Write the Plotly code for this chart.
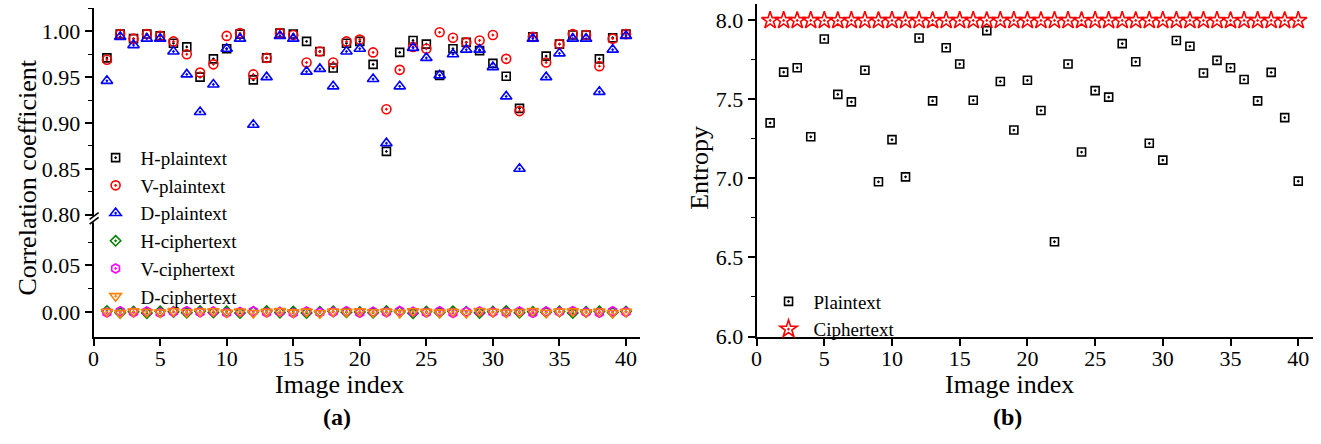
import plotly.graph_objects as go

# ---------------- data ----------------
image_index = list(range(1, 41))

# (a) correlation coefficients of adjacent pixels
h_plain = [0.971, 0.997, 0.992, 0.997, 0.995, 0.987, 0.983, 0.950, 0.970, 0.981,
           0.997, 0.947, 0.971, 0.998, 0.997, 0.989, 0.978, 0.960, 0.987, 0.989,
           0.964, 0.869, 0.977, 0.990, 0.986, 0.952, 0.981, 0.988, 0.979, 0.965,
           0.951, 0.916, 0.994, 0.973, 0.986, 0.996, 0.996, 0.970, 0.993, 0.997]
v_plain = [0.969, 0.997, 0.992, 0.997, 0.995, 0.989, 0.975, 0.955, 0.964, 0.995,
           0.998, 0.953, 0.971, 0.998, 0.996, 0.966, 0.978, 0.966, 0.989, 0.991,
           0.977, 0.915, 0.958, 0.983, 0.981, 0.999, 0.993, 0.988, 0.990, 0.996,
           0.970, 0.913, 0.994, 0.966, 0.986, 0.997, 0.996, 0.962, 0.992, 0.997]
d_plain = [0.946, 0.994, 0.985, 0.992, 0.992, 0.978, 0.953, 0.912, 0.942, 0.981,
           0.992, 0.898, 0.950, 0.995, 0.992, 0.956, 0.959, 0.940, 0.978, 0.981,
           0.948, 0.878, 0.940, 0.982, 0.971, 0.952, 0.975, 0.980, 0.980, 0.961,
           0.929, 0.850, 0.992, 0.950, 0.976, 0.992, 0.992, 0.934, 0.980, 0.995]
h_cipher = [0.0012, -0.0008, 0.0005, -0.0011, 0.0009, 0.0003, -0.0006, 0.0010, -0.0004, 0.0007,
            -0.0010, 0.0002, 0.0011, -0.0005, 0.0006, -0.0009, 0.0004, 0.0008, -0.0002, 0.0001,
            -0.0007, 0.0010, 0.0003, -0.0012, 0.0006, -0.0003, 0.0009, 0.0002, -0.0008, 0.0005,
            0.0011, -0.0006, 0.0004, -0.0001, 0.0007, -0.0010, 0.0003, 0.0008, -0.0004, 0.0006]
v_cipher = [-0.0006, 0.0010, -0.0003, 0.0007, -0.0009, 0.0004, 0.0011, -0.0002, 0.0006, -0.0008,
            0.0003, 0.0009, -0.0005, 0.0002, -0.0011, 0.0008, -0.0004, 0.0001, 0.0010, -0.0007,
            0.0005, -0.0002, 0.0012, 0.0004, -0.0006, 0.0009, -0.0010, 0.0003, 0.0007, -0.0001,
            -0.0005, 0.0008, -0.0009, 0.0006, 0.0002, 0.0011, -0.0003, -0.0007, 0.0009, 0.0001]
d_cipher = [0.0004, -0.0011, 0.0008, 0.0001, -0.0005, 0.0010, -0.0002, 0.0006, 0.0009, -0.0004,
            0.0007, -0.0009, 0.0002, 0.0010, -0.0003, 0.0005, -0.0012, 0.0007, 0.0003, 0.0008,
            -0.0001, 0.0006, -0.0008, 0.0009, 0.0002, -0.0006, 0.0004, -0.0010, 0.0011, 0.0003,
            -0.0004, 0.0001, 0.0010, -0.0007, 0.0005, 0.0008, -0.0002, 0.0006, -0.0009, 0.0004]

# (b) information entropy
entropy_plain = [7.350, 7.671, 7.698, 7.262, 7.880, 7.530, 7.483, 7.683, 6.978, 7.244,
                 7.009, 7.886, 7.489, 7.825, 7.722, 7.493, 7.933, 7.612, 7.305, 7.619,
                 7.428, 6.599, 7.722, 7.166, 7.554, 7.513, 7.851, 7.736, 7.221, 7.115,
                 7.871, 7.834, 7.665, 7.745, 7.698, 7.624, 7.489, 7.669, 7.383, 6.982]
entropy_cipher = [7.9972, 7.9973, 7.9971, 7.9974, 7.9972, 7.9970, 7.9973, 7.9972, 7.9971, 7.9974,
                  7.9973, 7.9972, 7.9970, 7.9973, 7.9974, 7.9972, 7.9971, 7.9973, 7.9972, 7.9974,
                  7.9971, 7.9973, 7.9972, 7.9970, 7.9974, 7.9973, 7.9972, 7.9971, 7.9973, 7.9972,
                  7.9974, 7.9971, 7.9972, 7.9973, 7.9970, 7.9972, 7.9974, 7.9973, 7.9971, 7.9972]

x_ticks = [0, 5, 10, 15, 20, 25, 30, 35, 40]

# ---------------- layout geometry (pixels) ----------------
W, H = 1321, 444
FONT = "Liberation Serif, Times New Roman, Times, serif"


def px(x):
    return x / W


def py(y):
    return 1 - y / H


fig = go.Figure()

marker_line = 1.6

plain_series = [
    ("H-plaintext", h_plain, "square-open-dot", "#000000", 8),
    ("V-plaintext", v_plain, "circle-open-dot", "#ff0000", 9),
    ("D-plaintext", d_plain, "triangle-up-open-dot", "#0000ff", 10),
]
cipher_series = [
    ("H-ciphertext", h_cipher, "diamond-open-dot", "#008000", 8),
    ("V-ciphertext", v_cipher, "hexagon-open-dot", "#ff00ff", 9),
    ("D-ciphertext", d_cipher, "triangle-down-open-dot", "#ff7f00", 10),
]

for name, vals, sym, col, sz in plain_series:
    fig.add_trace(go.Scatter(
        x=image_index, y=vals, mode="markers", name=name,
        xaxis="x", yaxis="y3", legend="legend",
        marker=dict(symbol=sym, size=sz, color=col, line=dict(width=marker_line, color=col)),
    ))
for name, vals, sym, col, sz in cipher_series:
    fig.add_trace(go.Scatter(
        x=image_index, y=vals, mode="markers", name=name,
        xaxis="x", yaxis="y", legend="legend",
        marker=dict(symbol=sym, size=sz, color=col, line=dict(width=marker_line, color=col)),
    ))

fig.add_trace(go.Scatter(
    x=image_index, y=entropy_plain, mode="markers", name="Plaintext",
    xaxis="x2", yaxis="y2", legend="legend2",
    marker=dict(symbol="square-open-dot", size=8, color="#000000",
                line=dict(width=marker_line, color="#000000")),
))
fig.add_trace(go.Scatter(
    x=image_index, y=entropy_cipher, mode="markers", name="Ciphertext",
    xaxis="x2", yaxis="y2", legend="legend2",
    marker=dict(symbol="star-open-dot", size=13, color="#ff0000",
                line=dict(width=marker_line, color="#ff0000")),
))

tick_font = dict(family=FONT, size=22, color="black")
axis_common = dict(
    showline=True, linecolor="black", linewidth=2,
    ticks="outside", ticklen=7, tickwidth=1.6, tickcolor="black",
    showgrid=False, zeroline=False, tickfont=tick_font,
)
x_common = dict(axis_common, ticklabelstandoff=-6)
minor_y = lambda d: dict(ticks="outside", ticklen=4, tickwidth=1.4, tickcolor="black", dtick=d, showgrid=False)

legend_font = dict(family=FONT, size=19, color="black")

fig.update_layout(
    width=W, height=H, margin=dict(l=0, r=0, t=0, b=0),
    paper_bgcolor="white", plot_bgcolor="white",
    font=dict(family=FONT, color="black"),
    xaxis=dict(domain=[px(88), px(637)], range=[0, 41.06], anchor="y",
               tickmode="array", tickvals=x_ticks, **x_common),
    yaxis=dict(domain=[py(346.7), py(229)], range=[-0.0262, 0.0962], anchor="x",
               tickmode="array", tickvals=[0.0, 0.05], ticktext=["0.00", "0.05"],
               minor=dict(ticks="outside", ticklen=4, tickwidth=1.4, tickcolor="black",
                          tickmode="array", tickvals=[0.025, 0.075], showgrid=False),
               **axis_common),
    yaxis3=dict(domain=[py(223), py(8.3)], range=[0.7980, 1.0254], anchor="x",
                tick0=0.8, dtick=0.05, tickformat=".2f",
                minor=minor_y(0.025), **axis_common),
    xaxis2=dict(domain=[px(754), px(1312.7)], range=[0, 41.07], anchor="y2",
                tickmode="array", tickvals=x_ticks, **x_common),
    yaxis2=dict(domain=[py(346.7), py(4)], range=[6.0, 8.102], anchor="x2",
                tick0=6.0, dtick=0.5, tickformat=".1f",
                minor=minor_y(0.25), **axis_common),
    legend=dict(x=px(85), y=py(143), xanchor="left", yanchor="top",
                bgcolor="rgba(0,0,0,0)", borderwidth=0, font=legend_font,
                tracegroupgap=0, itemwidth=40),
    legend2=dict(x=px(761), y=py(291), xanchor="left", yanchor="top",
                 bgcolor="rgba(0,0,0,0)", borderwidth=0, font=legend_font,
                 tracegroupgap=0, itemwidth=40),
    showlegend=True,
)

# axis titles and panel captions
title_font = dict(family=FONT, size=26, color="black")
annotations = [
    dict(text="Correlation coefficient", x=px(22), y=py(183), textangle=-90, font=title_font),
    dict(text="Entropy", x=px(697), y=py(173), textangle=-90, font=title_font),
    dict(text="Image index", x=px(335), y=py(396), font=title_font),
    dict(text="Image index", x=px(1008), y=py(396), font=title_font),
    dict(text="<b>(a)</b>", x=px(333), y=py(430), font=dict(family=FONT, size=24, color="black")),
    dict(text="<b>(b)</b>", x=px(1006), y=py(430), font=dict(family=FONT, size=24, color="black")),
]
for a in annotations:
    a.update(xref="paper", yref="paper", showarrow=False, xanchor="center", yanchor="middle")
fig.update_layout(annotations=annotations)

# axis-break marks on the left y axis
fig.add_shape(type="rect", xref="paper", yref="paper",
              x0=px(84), x1=px(93), y0=py(229), y1=py(223),
              fillcolor="white", line=dict(width=0), layer="above")
for yb in (226, 231):
    fig.add_shape(type="line", xref="paper", yref="paper",
                  x0=px(84), y0=py(yb), x1=px(93), y1=py(yb - 7),
                  line=dict(color="black", width=1.6), layer="above")

fig.write_html("out.html")
